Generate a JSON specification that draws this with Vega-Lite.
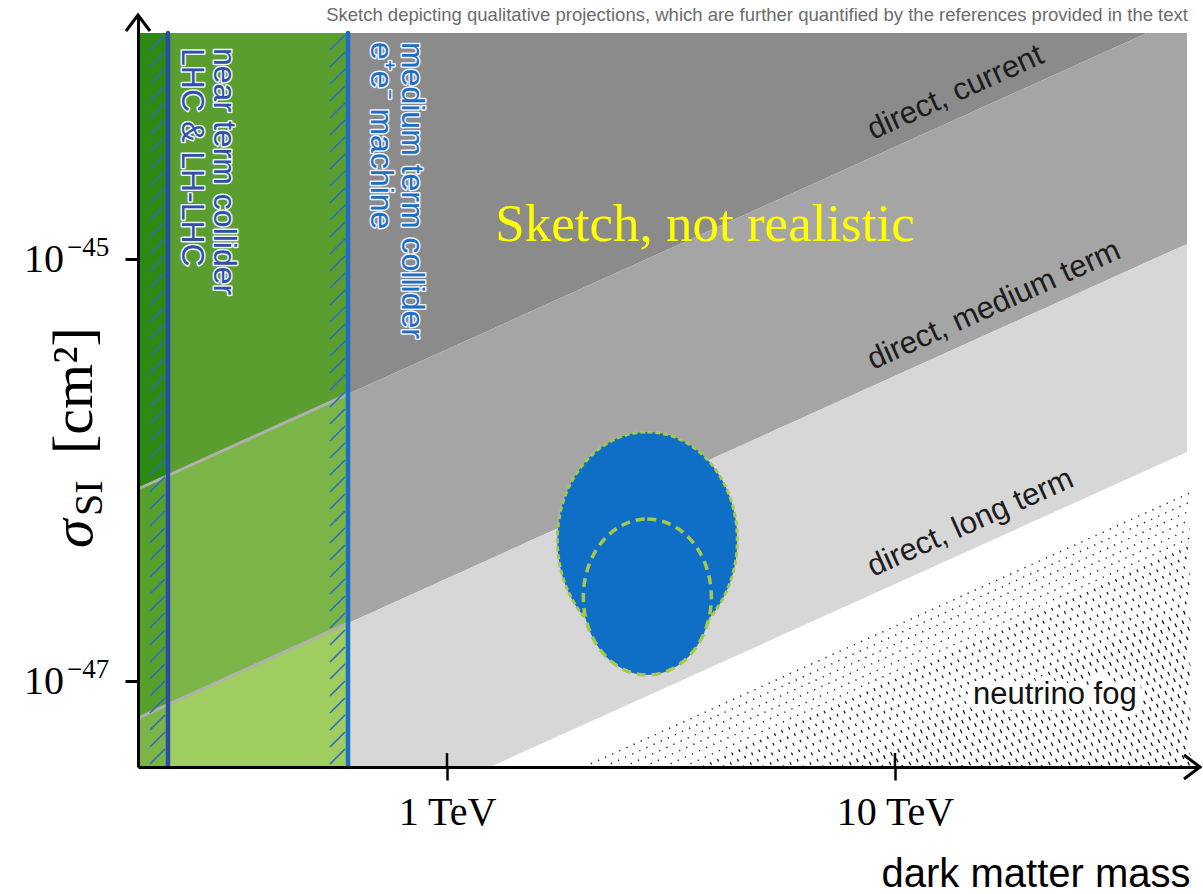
{
  "$schema": "https://vega.github.io/schema/vega-lite/v6.json",
  "width": 1062,
  "height": 752,
  "autosize": "none",
  "padding": {"left": 138, "top": 15, "right": 3, "bottom": 127},
  "background": "#ffffff",
  "config": {"view": {"stroke": null}},
  "datasets": {
    "regions": [
      {"zone": "current", "m": 0.6012, "s": 2.289e-46, "s2": 1.178e-44},
      {"zone": "current", "m": 36.52, "s": 1.178e-44, "s2": 1.178e-44},
      {"zone": "medium", "m": 0.6012, "s": 1.880e-47, "s2": 2.289e-46},
      {"zone": "medium", "m": 36.52, "s": 9.674e-46, "s2": 1.178e-44},
      {"zone": "medium", "m": 44.86, "s": 1.178e-45, "s2": 1.178e-44},
      {"zone": "long", "m": 0.6012, "s": 3.912e-48, "s2": 1.880e-47},
      {"zone": "long", "m": 1.2474, "s": 3.912e-48, "s2": 3.789e-47},
      {"zone": "long", "m": 44.86, "s": 1.217e-46, "s2": 1.178e-45},
      {"zone": "lhc_current", "m": 0.20428, "s": 8.128e-47, "s2": 1.178e-44},
      {"zone": "lhc_current", "m": 0.2383, "s": 9.424e-47, "s2": 1.178e-44},
      {"zone": "lhc_medium", "m": 0.20428, "s": 6.675e-48, "s2": 8.128e-47},
      {"zone": "lhc_medium", "m": 0.2383, "s": 7.741e-48, "s2": 9.424e-47},
      {"zone": "lhc_long", "m": 0.20428, "s": 3.912e-48, "s2": 6.675e-48},
      {"zone": "lhc_long", "m": 0.2383, "s": 3.912e-48, "s2": 7.741e-48},
      {"zone": "ee_current", "m": 0.2383, "s": 9.424e-47, "s2": 1.178e-44},
      {"zone": "ee_current", "m": 0.6012, "s": 2.289e-46, "s2": 1.178e-44},
      {"zone": "ee_medium", "m": 0.2383, "s": 7.741e-48, "s2": 9.424e-47},
      {"zone": "ee_medium", "m": 0.6012, "s": 1.880e-47, "s2": 2.289e-46},
      {"zone": "ee_long", "m": 0.2383, "s": 3.912e-48, "s2": 7.741e-48},
      {"zone": "ee_long", "m": 0.6012, "s": 3.912e-48, "s2": 1.880e-47}
    ],
    "edges": [
      {"edge": "current", "m": 0.20428, "s": 8.128e-47},
      {"edge": "current", "m": 0.6012, "s": 2.289e-46},
      {"edge": "medium", "m": 0.20428, "s": 6.675e-48},
      {"edge": "medium", "m": 0.6012, "s": 1.880e-47}
    ],
    "marks": [
      {"id": "fog", "m": 45.55, "s": 3.912e-48},
      {"id": "outer", "m": 2.8, "s": 4.658e-47},
      {"id": "inner", "m": 2.8, "s": 2.501e-47},
      {"id": "lhc", "m": 0.2383, "s": 3.912e-48, "s2": 1.178e-44},
      {"id": "ee", "m": 0.6012, "s": 3.912e-48, "s2": 1.178e-44},
      {"id": "yarrow", "m": 0.20428, "s": 1.4337e-44},
      {"id": "xarrow", "m": 47.965, "s": 3.912e-48},
      {"id": "tick", "m": 1, "s": 3.912e-48},
      {"id": "tick", "m": 10, "s": 3.912e-48}
    ],
    "labels": [
      {"id": "note", "text": "Sketch depicting qualitative projections, which are further quantified by the references provided in the text", "m": 45.08, "s": 1.343e-44},
      {"id": "sketch", "text": "Sketch, not realistic", "m": 3.766, "s": 1.217e-45},
      {"id": "band", "text": "direct, current", "m": 8.93, "s": 3.664e-45},
      {"id": "band", "text": "direct, medium term", "m": 8.93, "s": 2.979e-46},
      {"id": "band", "text": "direct, long term", "m": 8.93, "s": 3.111e-47},
      {"id": "fog", "text": "neutrino fog", "m": 14.93, "s": 7.78e-48},
      {"id": "near", "text": "near term collider", "m": 0.302, "s": 1.0e-44},
      {"id": "near", "text": "LHC & LH-LHC", "m": 0.2562, "s": 1.0e-44},
      {"id": "medcol", "text": "medium term collider", "m": 0.7937, "s": 1.068e-44},
      {"id": "medcol", "text": "e⁺e⁻ machine", "m": 0.6765, "s": 1.068e-44},
      {"id": "ysig", "text": "σ", "m": 0.1613, "s": 4.27e-47},
      {"id": "ysub", "text": "SI", "m": 0.1613, "s": 4.27e-47},
      {"id": "yunit", "text": "[cm²]", "m": 0.1613, "s": 4.27e-47},
      {"id": "ybase", "text": "10", "m": 0.1396, "s": 1e-45},
      {"id": "ybase", "text": "10", "m": 0.1396, "s": 1e-47},
      {"id": "yexp", "text": "−45", "m": 0.1418, "s": 1e-45},
      {"id": "yexp", "text": "−47", "m": 0.1418, "s": 1e-47}
    ]
  },
  "encoding": {
    "x": {
      "field": "m",
      "type": "quantitative",
      "scale": {"type": "log", "domain": [0.20428, 47.965], "nice": false},
      "axis": {
        "values": [1, 10],
        "labelExpr": "datum.value + ' TeV'",
        "labelFont": "Liberation Serif",
        "labelFontSize": 40,
        "labelColor": "#000000",
        "labelPadding": 12,
        "labelFlush": false,
        "labelOverlap": false,
        "tickSize": 13,
        "tickWidth": 2.5,
        "tickColor": "#000000",
        "domainColor": "#000000",
        "domainWidth": 3,
        "grid": false,
        "zindex": 1,
        "title": "dark matter mass",
        "titleFont": "Liberation Sans",
        "titleFontSize": 40,
        "titleFontWeight": "normal",
        "titleColor": "#000000",
        "titleAnchor": "end",
        "titleAlign": "right",
        "titleBaseline": "alphabetic",
        "titleX": 1052,
        "titleY": 119
      }
    },
    "y": {
      "field": "s",
      "type": "quantitative",
      "stack": null,
      "scale": {"type": "log", "domain": [3.912e-48, 1.4337e-44], "nice": false},
      "axis": {
        "values": [1e-45, 1e-47],
        "labels": false,
        "tickSize": 13,
        "tickWidth": 3,
        "tickColor": "#000000",
        "domainColor": "#000000",
        "domainWidth": 3,
        "grid": false,
        "zindex": 1,
        "title": null
      }
    }
  },
  "layer": [
    {
      "data": {"name": "regions"},
      "mark": {"type": "area", "opacity": 1},
      "encoding": {
        "y2": {"field": "s2"},
        "color": {
          "field": "zone",
          "type": "nominal",
          "legend": null,
          "scale": {
            "domain": ["current", "medium", "long", "lhc_current", "lhc_medium", "lhc_long", "ee_current", "ee_medium", "ee_long"],
            "range": ["#8b8b8b", "#a5a5a5", "#d7d7d7", "#2c8a12", "#58a02c", "#7cb547", "#5a9e2f", "#7cb547", "#a0cd60"]
          }
        }
      }
    },
    {
      "data": {"name": "edges"},
      "mark": {"type": "line", "stroke": "#b0b0b0", "strokeWidth": 3},
      "encoding": {"detail": {"field": "edge", "type": "nominal"}}
    },
    {
      "data": {"name": "marks"},
      "transform": [{"filter": "datum.id == 'fog'"}],
      "mark": {"type": "point", "size": 4, "filled": false, "opacity": 1, "stroke": "#2a2a2a", "strokeWidth": 1.5, "strokeDash": [1.3, 6.5],
        "shape": "M-606.2,0L0,-274M-586.2,0L0,-265M-566.3,0L0,-256M-546.4,0L0,-247M-526.5,0L0,-238M-506.6,0L0,-229"}
    },
    {
      "data": {"name": "marks"},
      "transform": [{"filter": "datum.id == 'fog'"}],
      "mark": {"type": "point", "size": 4, "filled": false, "opacity": 1, "stroke": "#1e1e1e", "strokeWidth": 2.8, "strokeDash": [1.3, 6.5],
        "shape": "M-486.7,0L0,-220M-466.8,0L0,-211M-446.9,0L0,-202M-427,0L0,-193M-407.1,0L0,-184M-387.2,0L0,-175M-367.3,0L0,-166"}
    },
    {
      "data": {"name": "marks"},
      "transform": [{"filter": "datum.id == 'fog'"}],
      "mark": {"type": "point", "size": 4, "filled": false, "opacity": 1, "stroke": "#141414", "strokeWidth": 4, "strokeDash": [1.3, 6.5],
        "shape": "M-347.4,0L0,-157M-327.5,0L0,-148M-307.6,0L0,-139M-287.7,0L0,-130M-267.8,0L0,-121M-247.9,0L0,-112M-228,0L0,-103M-208.1,0L0,-94M-188.2,0L0,-85M-168.2,0L0,-76M-148.3,0L0,-67M-128.4,0L0,-58M-108.5,0L0,-49M-88.6,0L0,-40M-68.7,0L0,-31M-48.8,0L0,-22M-28.9,0L0,-13M-9,0L0,-4"}
    },
    {
      "data": {"name": "marks"},
      "transform": [{"filter": "datum.id == 'outer'"}],
      "mark": {"type": "point", "size": 4, "filled": true, "opacity": 1, "fill": "#0f6fc6", "stroke": "#a6c94c", "strokeWidth": 3, "strokeDash": [5, 3],
        "shape": "M0,-108C49.7,-108,90,-59.65,90,0C90,59.65,49.7,108,0,108C-49.7,108,-90,59.65,-90,0C-90,-59.65,-49.7,-108,0,-108Z"}
    },
    {
      "data": {"name": "marks"},
      "transform": [{"filter": "datum.id == 'inner'"}],
      "mark": {"type": "point", "size": 4, "filled": true, "opacity": 1, "fill": "#0f6fc6", "stroke": "#a6c94c", "strokeWidth": 3.5, "strokeDash": [9, 6],
        "shape": "M0,-78C35.35,-78,64,-43.08,64,0C64,43.08,35.35,78,0,78C-35.35,78,-64,43.08,-64,0C-64,-43.08,-35.35,-78,0,-78Z"}
    },
    {
      "data": {"name": "marks"},
      "transform": [{"filter": "datum.id == 'lhc' || datum.id == 'ee'"}],
      "mark": {"type": "point", "size": 4, "filled": false, "opacity": 1, "stroke": "#2f6cc0", "strokeWidth": 1.6,
        "shape": "M-18,-3L-3,-18M-18,-20L-3,-35M-18,-37L-3,-52M-18,-54L-3,-69M-18,-71L-3,-86M-18,-88L-3,-103M-18,-105L-3,-120M-18,-122L-3,-137M-18,-139L-3,-154M-18,-156L-3,-171M-18,-173L-3,-188M-18,-190L-3,-205M-18,-207L-3,-222M-18,-224L-3,-239M-18,-241L-3,-256M-18,-258L-3,-273M-18,-275L-3,-290M-18,-292L-3,-307M-18,-309L-3,-324M-18,-326L-3,-341M-18,-343L-3,-358M-18,-360L-3,-375M-18,-377L-3,-392M-18,-394L-3,-409M-18,-411L-3,-426M-18,-428L-3,-443M-18,-445L-3,-460M-18,-462L-3,-477M-18,-479L-3,-494M-18,-496L-3,-511M-18,-513L-3,-528M-18,-530L-3,-545M-18,-547L-3,-562M-18,-564L-3,-579M-18,-581L-3,-596M-18,-598L-3,-613M-18,-615L-3,-630M-18,-632L-3,-647M-18,-649L-3,-664M-18,-666L-3,-681M-18,-683L-3,-698M-18,-700L-3,-715M-18,-717L-3,-732"}
    },
    {
      "data": {"name": "marks"},
      "transform": [{"filter": "datum.id == 'lhc'"}],
      "mark": {"type": "rule", "stroke": "#2a4ea3", "strokeWidth": 4.5, "strokeCap": "round"},
      "encoding": {"y2": {"field": "s2"}}
    },
    {
      "data": {"name": "marks"},
      "transform": [{"filter": "datum.id == 'ee'"}],
      "mark": {"type": "rule", "stroke": "#1d6fc2", "strokeWidth": 4.5, "strokeCap": "round"},
      "encoding": {"y2": {"field": "s2"}}
    },
    {
      "data": {"name": "labels"},
      "transform": [{"filter": "datum.id == 'band'"}],
      "mark": {"type": "text", "align": "left", "baseline": "alphabetic", "angle": -24.3, "font": "Liberation Sans", "fontSize": 31, "fill": "#1c1c1c"},
      "encoding": {"text": {"field": "text"}}
    },
    {
      "data": {"name": "labels"},
      "transform": [{"filter": "datum.id == 'sketch'"}],
      "mark": {"type": "text", "align": "center", "baseline": "alphabetic", "font": "Liberation Serif", "fontSize": 53, "fill": "#ffff00"},
      "encoding": {"text": {"field": "text"}}
    },
    {
      "data": {"name": "labels"},
      "transform": [{"filter": "datum.id == 'fog'"}],
      "mark": {"type": "text", "align": "left", "baseline": "alphabetic", "font": "Liberation Sans", "fontSize": 31, "fill": "#ffffff", "stroke": "#ffffff", "strokeWidth": 12, "strokeJoin": "round"},
      "encoding": {"text": {"field": "text"}}
    },
    {
      "data": {"name": "labels"},
      "transform": [{"filter": "datum.id == 'fog'"}],
      "mark": {"type": "text", "align": "left", "baseline": "alphabetic", "font": "Liberation Sans", "fontSize": 31, "fill": "#111111"},
      "encoding": {"text": {"field": "text"}}
    },
    {
      "data": {"name": "labels"},
      "transform": [{"filter": "datum.id == 'near' || datum.id == 'medcol'"}],
      "mark": {"type": "text", "align": "left", "baseline": "alphabetic", "angle": 90, "font": "Liberation Sans", "fontSize": 32, "fill": "#ffffff", "stroke": "#eef2fa", "strokeWidth": 3, "strokeJoin": "round"},
      "encoding": {"text": {"field": "text"}}
    },
    {
      "data": {"name": "labels"},
      "transform": [{"filter": "datum.id == 'near'"}],
      "mark": {"type": "text", "align": "left", "baseline": "alphabetic", "angle": 90, "font": "Liberation Sans", "fontSize": 32, "fill": "#2f4fa8"},
      "encoding": {"text": {"field": "text"}}
    },
    {
      "data": {"name": "labels"},
      "transform": [{"filter": "datum.id == 'medcol'"}],
      "mark": {"type": "text", "align": "left", "baseline": "alphabetic", "angle": 90, "font": "Liberation Sans", "fontSize": 32, "fill": "#1c70c4"},
      "encoding": {"text": {"field": "text"}}
    },
    {
      "data": {"name": "labels"},
      "transform": [{"filter": "datum.id == 'note'"}],
      "mark": {"type": "text", "align": "right", "baseline": "alphabetic", "font": "Liberation Sans", "fontSize": 18.5, "fill": "#6b6b6b"},
      "encoding": {"text": {"field": "text"}}
    },
    {
      "data": {"name": "marks"},
      "transform": [{"filter": "datum.id == 'yarrow'"}],
      "mark": {"type": "point", "size": 4, "filled": false, "opacity": 1, "stroke": "#000000", "strokeWidth": 3, "shape": "M-12,16L0,0L12,16"}
    },
    {
      "data": {"name": "marks"},
      "transform": [{"filter": "datum.id == 'xarrow'"}],
      "mark": {"type": "point", "size": 4, "filled": false, "opacity": 1, "stroke": "#000000", "strokeWidth": 3, "shape": "M-16,-12L0,0L-16,12"}
    },
    {
      "data": {"name": "marks"},
      "transform": [{"filter": "datum.id == 'tick'"}],
      "mark": {"type": "point", "size": 4, "filled": false, "opacity": 1, "stroke": "#000000", "strokeWidth": 2.5, "shape": "M0,-14L0,0"}
    },
    {
      "data": {"name": "labels"},
      "transform": [{"filter": "datum.id == 'ysig'"}],
      "mark": {"type": "text", "align": "left", "baseline": "alphabetic", "angle": -90, "font": "Liberation Serif", "fontStyle": "italic", "fontSize": 58, "fill": "#000000"},
      "encoding": {"text": {"field": "text"}}
    },
    {
      "data": {"name": "labels"},
      "transform": [{"filter": "datum.id == 'ysub'"}],
      "mark": {"type": "text", "align": "left", "baseline": "alphabetic", "angle": -90, "dx": 32, "dy": 10, "font": "Liberation Serif", "fontSize": 40, "fill": "#000000"},
      "encoding": {"text": {"field": "text"}}
    },
    {
      "data": {"name": "labels"},
      "transform": [{"filter": "datum.id == 'yunit'"}],
      "mark": {"type": "text", "align": "left", "baseline": "alphabetic", "angle": -90, "dx": 94, "font": "Liberation Serif", "fontSize": 58, "fill": "#000000"},
      "encoding": {"text": {"field": "text"}}
    },
    {
      "data": {"name": "labels"},
      "transform": [{"filter": "datum.id == 'ybase'"}],
      "mark": {"type": "text", "align": "right", "baseline": "alphabetic", "dy": 13, "font": "Liberation Serif", "fontSize": 40, "fill": "#000000"},
      "encoding": {"text": {"field": "text"}}
    },
    {
      "data": {"name": "labels"},
      "transform": [{"filter": "datum.id == 'yexp'"}],
      "mark": {"type": "text", "align": "left", "baseline": "alphabetic", "dy": -3, "font": "Liberation Serif", "fontSize": 27, "fill": "#000000"},
      "encoding": {"text": {"field": "text"}}
    }
  ]
}
